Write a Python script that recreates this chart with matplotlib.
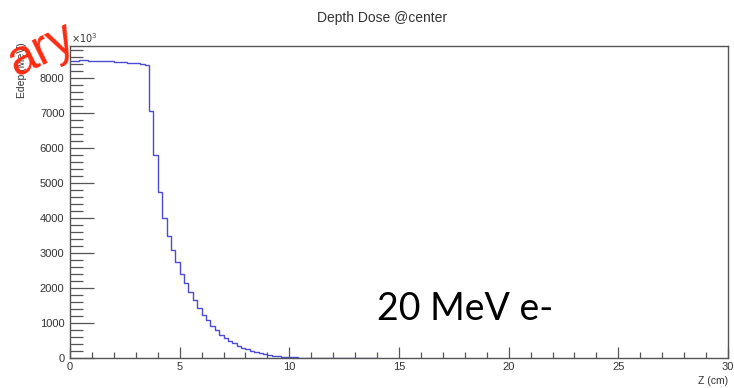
import numpy as np
import matplotlib
matplotlib.use('Agg')
import matplotlib.pyplot as plt
from matplotlib.ticker import MultipleLocator, FuncFormatter

# Depth dose along the beam axis, 0.2 cm bins from 0 to 14 cm (Edep in MeV)
bin_width = 0.2
edep = [
    8500, 8505, 8510, 8510, 8505, 8500, 8500, 8495, 8490, 8480,
    8470, 8460, 8450, 8440, 8430, 8420, 8405, 8390,
    7070, 5790, 4760, 4000, 3490, 3075, 2735, 2410, 2145, 1885,
    1645, 1430, 1235, 1075, 925, 790, 665, 570, 495, 415,
    350, 295, 245, 200, 160, 130, 105, 85, 60, 45, 35, 25,
    20, 16, 13, 10, 8, 7, 6, 5, 4, 3,
    3, 2, 2, 2, 1, 1, 1, 1, 1, 1,
]
edges = np.arange(len(edep) + 1) * bin_width

plt.rcParams['font.family'] = ['Liberation Sans', 'DejaVu Sans']

fig = plt.figure(figsize=(7.34, 3.88), dpi=100)
ax = fig.add_axes([70 / 734, 30 / 388, 658 / 734, 312 / 388])

ax.stairs(edep, edges, color='#4b4bd6', linewidth=1.0, baseline=None)

ax.set_xlim(0, 30)
ax.set_ylim(0, 8920)

# ROOT-like axes: ticks inside, only on left and bottom
ax.xaxis.set_major_locator(MultipleLocator(5))
ax.xaxis.set_minor_locator(MultipleLocator(1))
ax.yaxis.set_major_locator(MultipleLocator(1000))
ax.yaxis.set_minor_locator(MultipleLocator(200))
ax.tick_params(axis='x', which='major', direction='in', length=8, width=0.9,
               color='#555555', labelsize=8, pad=3)
ax.tick_params(axis='x', which='minor', direction='in', length=4, width=0.9,
               color='#555555')
ax.tick_params(axis='y', which='major', direction='in', length=17, width=0.9,
               color='#555555', labelsize=8, pad=4)
ax.tick_params(axis='y', which='minor', direction='in', length=9, width=0.9,
               color='#555555')
ax.yaxis.set_major_formatter(FuncFormatter(lambda v, p: '%d' % v))
for s in ax.spines.values():
    s.set_color('#555555')
    s.set_linewidth(1.0)
for lab in ax.get_xticklabels() + ax.get_yticklabels():
    lab.set_color('#333333')
# last x label sits on the figure edge; keep it inside
ax.get_xticklabels()[-1].set_horizontalalignment('right')

fig.text(382 / 734, 1 - 18 / 388, 'Depth Dose @center', ha='center',
         va='center', fontsize=10, color='#333333')
fig.text(728 / 734, 1 - 381 / 388, 'Z (cm)', ha='right', va='center',
         fontsize=7.5, color='#333333')
fig.text(22 / 734, 1 - 42 / 388, 'Edep (MeV)', ha='center', va='top',
         rotation=90, fontsize=7.5, color='#333333')
fig.text(71 / 734, 1 - 38 / 388, r'$\times10^{3}$', ha='left', va='center',
         fontsize=7, color='#333333')

fig.text(377 / 734, 1 - 309 / 388, '20 MeV e-', ha='left', va='center',
         fontsize=27, color='black', family=['Lato', 'DejaVu Sans'])

fig.text(42 / 734, 1 - 50 / 388, 'ary', ha='center', va='center',
         rotation=26, fontsize=36, color='#ff2a10')

fig.savefig('out.png', dpi=100)
